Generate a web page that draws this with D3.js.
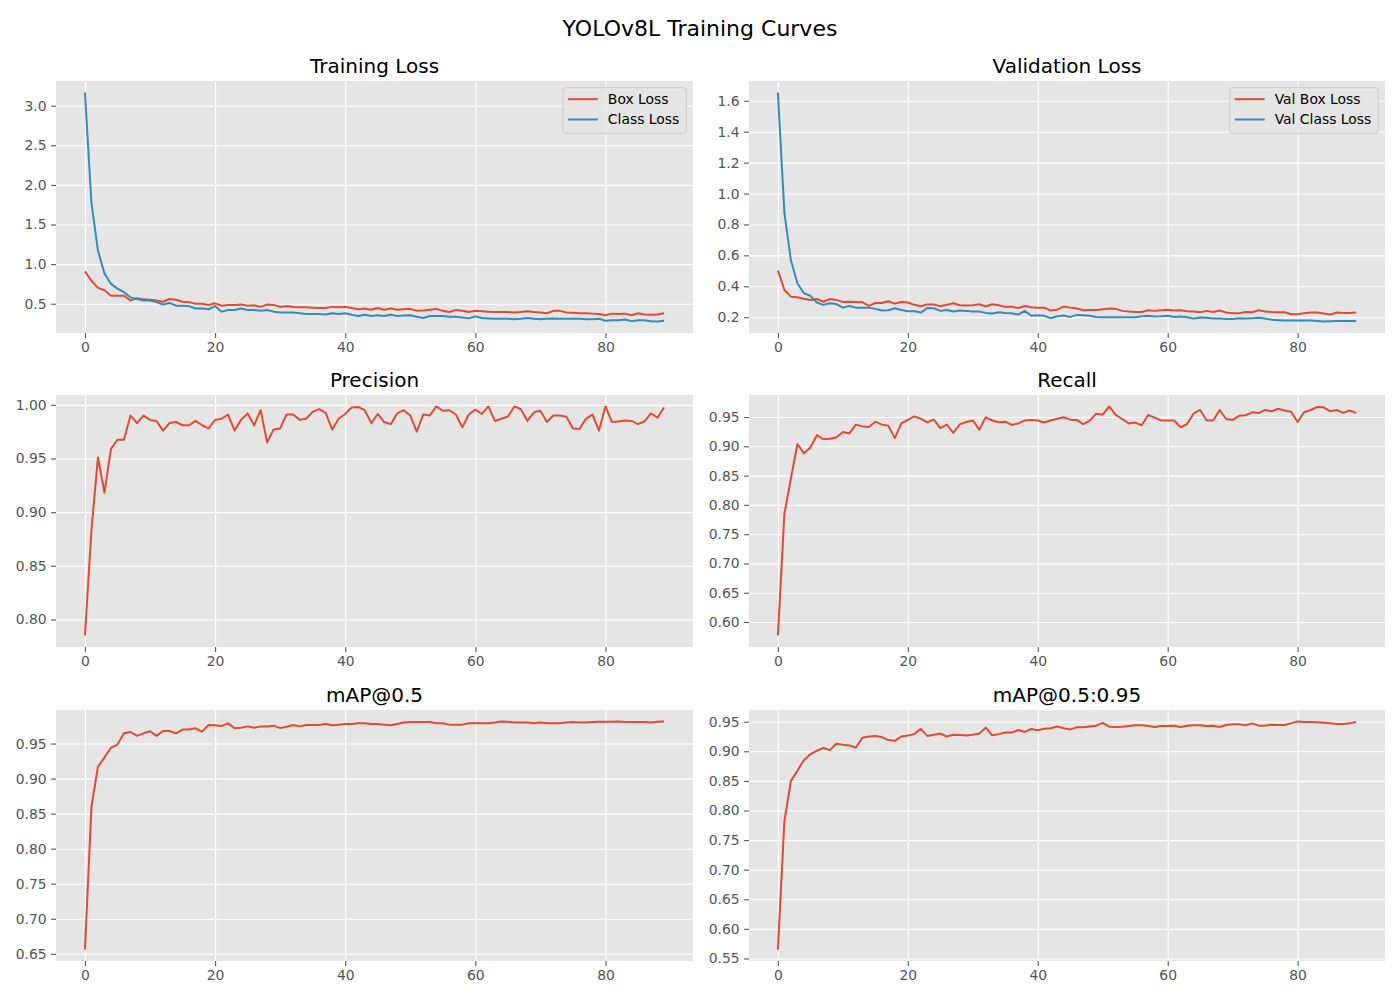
<!DOCTYPE html>
<html>
<head>
<meta charset="utf-8">
<script src="https://cdn.jsdelivr.net/npm/d3@7"></script>
<style>
  body { margin: 0; background: #fff; }
  svg { font-family: "DejaVu Sans", sans-serif; }
</style>
</head>
<body>
<svg id="chart" width="1400" height="1000"></svg>
<script>
// epochs 0..89
const epochs = d3.range(90);

const trainBoxLoss = [
  0.908, 0.79, 0.70, 0.67, 0.60, 0.60, 0.60, 0.54, 0.57, 0.555,
  0.55, 0.54, 0.525, 0.56, 0.55, 0.525, 0.52, 0.50, 0.50, 0.485,
  0.505, 0.475, 0.485, 0.485, 0.49, 0.475, 0.48, 0.46, 0.49, 0.485,
  0.46, 0.47, 0.46, 0.455, 0.455, 0.45, 0.445, 0.445, 0.46, 0.455,
  0.46, 0.445, 0.43, 0.44, 0.425, 0.445, 0.425, 0.44, 0.425, 0.43,
  0.435, 0.41, 0.415, 0.425, 0.435, 0.41, 0.395, 0.42, 0.41, 0.395,
  0.41, 0.405, 0.40, 0.395, 0.395, 0.395, 0.39, 0.395, 0.405, 0.395,
  0.39, 0.38, 0.41, 0.41, 0.39, 0.385, 0.38, 0.38, 0.375, 0.37,
  0.355, 0.375, 0.37, 0.375, 0.355, 0.38, 0.365, 0.36, 0.365, 0.38
];
const trainClassLoss = [
  3.167, 1.77, 1.17, 0.883, 0.75, 0.69, 0.646, 0.58, 0.56, 0.54,
  0.54, 0.52, 0.49, 0.51, 0.475, 0.475, 0.47, 0.44, 0.44, 0.43,
  0.47, 0.40, 0.42, 0.42, 0.44, 0.42, 0.42, 0.41, 0.42, 0.40,
  0.39, 0.39, 0.39, 0.38, 0.37, 0.37, 0.37, 0.365, 0.38, 0.37,
  0.38, 0.36, 0.345, 0.36, 0.345, 0.355, 0.345, 0.36, 0.345, 0.35,
  0.355, 0.335, 0.32, 0.345, 0.345, 0.345, 0.335, 0.335, 0.325, 0.315,
  0.34, 0.32, 0.315, 0.31, 0.31, 0.31, 0.305, 0.31, 0.32, 0.31,
  0.305, 0.31, 0.315, 0.31, 0.31, 0.31, 0.31, 0.305, 0.305, 0.31,
  0.285, 0.29, 0.29, 0.30, 0.28, 0.29, 0.29, 0.28, 0.275, 0.285
];
const valBoxLoss = [
  0.503, 0.376, 0.333, 0.329, 0.32, 0.312, 0.318, 0.30, 0.318, 0.312,
  0.299, 0.30, 0.299, 0.297, 0.273, 0.292, 0.292, 0.303, 0.288, 0.299,
  0.295, 0.28, 0.271, 0.282, 0.282, 0.271, 0.28, 0.29, 0.277, 0.275,
  0.277, 0.284, 0.269, 0.284, 0.277, 0.267, 0.267, 0.26, 0.273, 0.265,
  0.262, 0.262, 0.243, 0.249, 0.269, 0.262, 0.256, 0.245, 0.247, 0.247,
  0.252, 0.256, 0.254, 0.241, 0.237, 0.234, 0.234, 0.245, 0.241, 0.245,
  0.249, 0.243, 0.245, 0.239, 0.237, 0.232, 0.241, 0.234, 0.243, 0.230,
  0.226, 0.226, 0.234, 0.232, 0.245, 0.237, 0.234, 0.232, 0.232, 0.219,
  0.219, 0.226, 0.23, 0.23, 0.224, 0.217, 0.23, 0.228, 0.228, 0.23
];
const valClassLoss = [
  1.654, 0.875, 0.568, 0.42, 0.355, 0.338, 0.295, 0.28, 0.29, 0.285,
  0.262, 0.273, 0.262, 0.262, 0.262, 0.254, 0.243, 0.245, 0.258, 0.247,
  0.239, 0.239, 0.23, 0.26, 0.258, 0.241, 0.247, 0.237, 0.243, 0.241,
  0.237, 0.237, 0.228, 0.224, 0.232, 0.228, 0.226, 0.217, 0.241, 0.209,
  0.213, 0.209, 0.194, 0.206, 0.211, 0.202, 0.215, 0.213, 0.209, 0.202,
  0.2, 0.2, 0.2, 0.2, 0.2, 0.2, 0.206, 0.209, 0.204, 0.206,
  0.209, 0.202, 0.204, 0.2, 0.191, 0.198, 0.196, 0.191, 0.191, 0.189,
  0.189, 0.194, 0.191, 0.194, 0.196, 0.191, 0.183, 0.181, 0.178, 0.178,
  0.178, 0.178, 0.178, 0.176, 0.172, 0.174, 0.176, 0.176, 0.176, 0.176
];
const precision = [
  0.785, 0.883, 0.951, 0.918, 0.959, 0.9675, 0.9675, 0.990, 0.983, 0.990,
  0.986, 0.985, 0.976, 0.983, 0.984, 0.981, 0.981, 0.985, 0.981, 0.978,
  0.986, 0.987, 0.991, 0.976, 0.986, 0.992, 0.981, 0.995, 0.965, 0.977,
  0.978, 0.991, 0.991, 0.986, 0.987, 0.9935, 0.996, 0.9925, 0.977, 0.987,
  0.9915, 0.9975, 0.998, 0.995, 0.983, 0.9915, 0.984, 0.982, 0.992, 0.995,
  0.990, 0.975, 0.991, 0.990, 0.9985, 0.9945, 0.995, 0.991, 0.979, 0.991,
  0.9955, 0.9915, 0.9985, 0.985, 0.987, 0.989, 0.9985, 0.996, 0.985, 0.993,
  0.9945, 0.984, 0.990, 0.990, 0.989, 0.978, 0.9775, 0.987, 0.991, 0.976,
  0.9985, 0.984, 0.9845, 0.9855, 0.985, 0.982, 0.9845, 0.992, 0.988, 0.9975
];
const recall = [
  0.577, 0.785, 0.845, 0.904, 0.888, 0.898, 0.919, 0.912, 0.913, 0.915,
  0.9245, 0.922, 0.937, 0.934, 0.933, 0.942, 0.937, 0.935, 0.914, 0.939,
  0.945, 0.951, 0.947, 0.941, 0.9455, 0.931, 0.937, 0.923, 0.9375, 0.9415,
  0.944, 0.9285, 0.9495, 0.944, 0.941, 0.942, 0.9365, 0.939, 0.944, 0.945,
  0.944, 0.9405, 0.944, 0.947, 0.9495, 0.9455, 0.945, 0.938, 0.944, 0.9557,
  0.954, 0.968, 0.9535, 0.9466, 0.939, 0.9405, 0.936, 0.9535, 0.949, 0.944,
  0.944, 0.944, 0.9325, 0.938, 0.956, 0.962, 0.944, 0.944, 0.962, 0.9466,
  0.945, 0.952, 0.953, 0.958, 0.9567, 0.962, 0.9597, 0.964, 0.961, 0.959,
  0.9415, 0.958, 0.962, 0.967, 0.9665, 0.960, 0.962, 0.957, 0.961, 0.957
];
const map50 = [
  0.656, 0.860, 0.917, 0.930, 0.944, 0.9486, 0.9646, 0.9665, 0.961, 0.9646,
  0.9675, 0.961, 0.968, 0.968, 0.9646, 0.970, 0.970, 0.9717, 0.967, 0.9764,
  0.976, 0.975, 0.9788, 0.972, 0.9726, 0.9745, 0.9726, 0.9745, 0.9745, 0.9755,
  0.972, 0.974, 0.9764, 0.9745, 0.9764, 0.9764, 0.9764, 0.978, 0.976, 0.977,
  0.978, 0.978, 0.979, 0.979, 0.978, 0.978, 0.977, 0.976, 0.978, 0.980,
  0.9807, 0.9807, 0.9807, 0.9807, 0.979, 0.979, 0.977, 0.977, 0.977, 0.979,
  0.979, 0.979, 0.979, 0.980, 0.9816, 0.981, 0.980, 0.980, 0.980, 0.979,
  0.980, 0.979, 0.979, 0.979, 0.980, 0.9807, 0.980, 0.980, 0.9807, 0.981,
  0.981, 0.981, 0.9816, 0.9807, 0.9807, 0.9807, 0.9807, 0.980, 0.981, 0.9816
];
const map5095 = [
  0.565, 0.782, 0.85, 0.867, 0.885, 0.895, 0.901, 0.9055, 0.902, 0.9126,
  0.911, 0.910, 0.906, 0.923, 0.925, 0.926, 0.924, 0.919, 0.9176, 0.925,
  0.9265, 0.929, 0.938, 0.926, 0.928, 0.930, 0.925, 0.928, 0.9277, 0.9265,
  0.928, 0.930, 0.940, 0.927, 0.929, 0.9316, 0.9316, 0.936, 0.9327, 0.9377,
  0.9355, 0.938, 0.939, 0.942, 0.939, 0.937, 0.9405, 0.9405, 0.942, 0.9433,
  0.948, 0.9416, 0.941, 0.9416, 0.9427, 0.944, 0.944, 0.9427, 0.941, 0.9427,
  0.9427, 0.9433, 0.941, 0.9433, 0.944, 0.944, 0.9427, 0.9433, 0.941, 0.9444,
  0.9455, 0.9455, 0.944, 0.9472, 0.9433, 0.9433, 0.945, 0.9444, 0.9444, 0.9472,
  0.9505, 0.9494, 0.9494, 0.949, 0.9483, 0.9472, 0.946, 0.946, 0.9472, 0.9494
];

const xTicks = [0, 20, 40, 60, 80];
const trainLossTicks = [0.5, 1.0, 1.5, 2.0, 2.5, 3.0];
const valLossTicks = [0.2, 0.4, 0.6, 0.8, 1.0, 1.2, 1.4, 1.6];
const precisionTicks = [0.80, 0.85, 0.90, 0.95, 1.00];
const recallTicks = [0.60, 0.65, 0.70, 0.75, 0.80, 0.85, 0.90, 0.95];
const map50Ticks = [0.65, 0.70, 0.75, 0.80, 0.85, 0.90, 0.95];
const map5095Ticks = [0.55, 0.60, 0.65, 0.70, 0.75, 0.80, 0.85, 0.90, 0.95];

const red = '#E24A33', blue = '#348ABD';

// axes boxes in pixels (left, top, right, bottom)
const cols = [[56, 693], [749, 1385]];
const rows = [[81, 333], [395, 647], [710, 961]];

const panels = [
  {title: 'Training Loss', col: 0, row: 0, ticks: trainLossTicks, fmt: d3.format('.1f'),
   series: [{name: 'Box Loss', values: trainBoxLoss, color: red},
            {name: 'Class Loss', values: trainClassLoss, color: blue}], legend: true},
  {title: 'Validation Loss', col: 1, row: 0, ticks: valLossTicks, fmt: d3.format('.1f'),
   series: [{name: 'Val Box Loss', values: valBoxLoss, color: red},
            {name: 'Val Class Loss', values: valClassLoss, color: blue}], legend: true},
  {title: 'Precision', col: 0, row: 1, ticks: precisionTicks, fmt: d3.format('.2f'),
   series: [{name: 'Precision', values: precision, color: red}]},
  {title: 'Recall', col: 1, row: 1, ticks: recallTicks, fmt: d3.format('.2f'),
   series: [{name: 'Recall', values: recall, color: red}]},
  {title: 'mAP@0.5', col: 0, row: 2, ticks: map50Ticks, fmt: d3.format('.2f'),
   series: [{name: 'mAP@0.5', values: map50, color: red}]},
  {title: 'mAP@0.5:0.95', col: 1, row: 2, ticks: map5095Ticks, fmt: d3.format('.2f'),
   series: [{name: 'mAP@0.5:0.95', values: map5095, color: red}]}
];

const svg = d3.select('#chart');

svg.append('text')
  .attr('x', 700).attr('y', 36)
  .attr('text-anchor', 'middle')
  .attr('font-size', 22)
  .attr('fill', '#000')
  .text('YOLOv8L Training Curves');

// matplotlib style 5% margins
function padded(ext) {
  const m = (ext[1] - ext[0]) * 0.05;
  return [ext[0] - m, ext[1] + m];
}

panels.forEach(p => {
  const [x0, x1] = cols[p.col];
  const [y0, y1] = rows[p.row];
  const w = x1 - x0, h = y1 - y0;

  const xScale = d3.scaleLinear().domain(padded(d3.extent(epochs))).range([0, w]);
  const allVals = p.series.flatMap(s => s.values);
  const yScale = d3.scaleLinear().domain(padded(d3.extent(allVals))).range([h, 0]);

  const g = svg.append('g').attr('transform', `translate(${x0},${y0})`);

  g.append('rect').attr('width', w).attr('height', h).attr('fill', '#E5E5E5');

  // grid
  g.append('g').attr('class', 'grid')
    .call(d3.axisBottom(xScale).tickValues(xTicks).tickSize(h).tickFormat(''))
    .call(s => s.select('.domain').remove())
    .call(s => s.selectAll('line').attr('stroke', '#fff').attr('stroke-width', 1.1));
  g.append('g').attr('class', 'grid')
    .call(d3.axisLeft(yScale).tickValues(p.ticks).tickSize(-w).tickFormat(''))
    .call(s => s.select('.domain').remove())
    .call(s => s.selectAll('line').attr('stroke', '#fff').attr('stroke-width', 1.1));

  // axes
  const xAxis = g.append('g').attr('transform', `translate(0,${h})`)
    .call(d3.axisBottom(xScale).tickValues(xTicks).tickSize(4.9).tickPadding(4.5));
  const yAxis = g.append('g')
    .call(d3.axisLeft(yScale).tickValues(p.ticks).tickFormat(p.fmt).tickSize(4.9).tickPadding(4.5));
  [xAxis, yAxis].forEach(a => {
    a.select('.domain').remove();
    a.selectAll('line').attr('stroke', '#555555').attr('stroke-width', 1.1);
    a.selectAll('text').attr('fill', '#555555').attr('font-size', 13.9)
      .attr('font-family', '"DejaVu Sans", sans-serif');
  });

  // lines
  const line = d3.line().x((d, i) => xScale(epochs[i])).y(d => yScale(d));
  p.series.forEach(s => {
    g.append('path').attr('d', line(s.values))
      .attr('fill', 'none').attr('stroke', s.color)
      .attr('stroke-width', 2).attr('stroke-linejoin', 'round');
  });

  // title
  g.append('text').attr('x', w / 2).attr('y', -8.5)
    .attr('text-anchor', 'middle').attr('font-size', 20).attr('fill', '#000')
    .text(p.title);

  if (p.legend) {
    const lg = g.append('g');
    const rowH = 20.3;
    const items = lg.selectAll('g.item').data(p.series).join('g')
      .attr('class', 'item')
      .attr('transform', (d, i) => `translate(0,${i * rowH})`);
    items.append('line').attr('x1', 5).attr('x2', 35).attr('y1', 0).attr('y2', 0)
      .attr('stroke', d => d.color).attr('stroke-width', 2);
    items.append('text').attr('x', 45).attr('y', 0).attr('dy', '0.35em')
      .attr('font-size', 13.9).attr('fill', '#000').text(d => d.name);
    const tw = d3.max(items.nodes(), n => n.getBBox().width);
    const boxW = tw + 12, boxH = rowH * p.series.length + 5;
    const bx = w - 6.7 - boxW, by = 6.7;
    lg.insert('rect', ':first-child')
      .attr('x', 0).attr('y', -11.5).attr('width', boxW).attr('height', boxH)
      .attr('rx', 3).attr('fill', '#E5E5E5').attr('fill-opacity', 0.8)
      .attr('stroke', '#CCCCCC').attr('stroke-width', 1);
    lg.attr('transform', `translate(${bx},${by + 11.5})`);
  }
});
</script>
</body>
</html>
